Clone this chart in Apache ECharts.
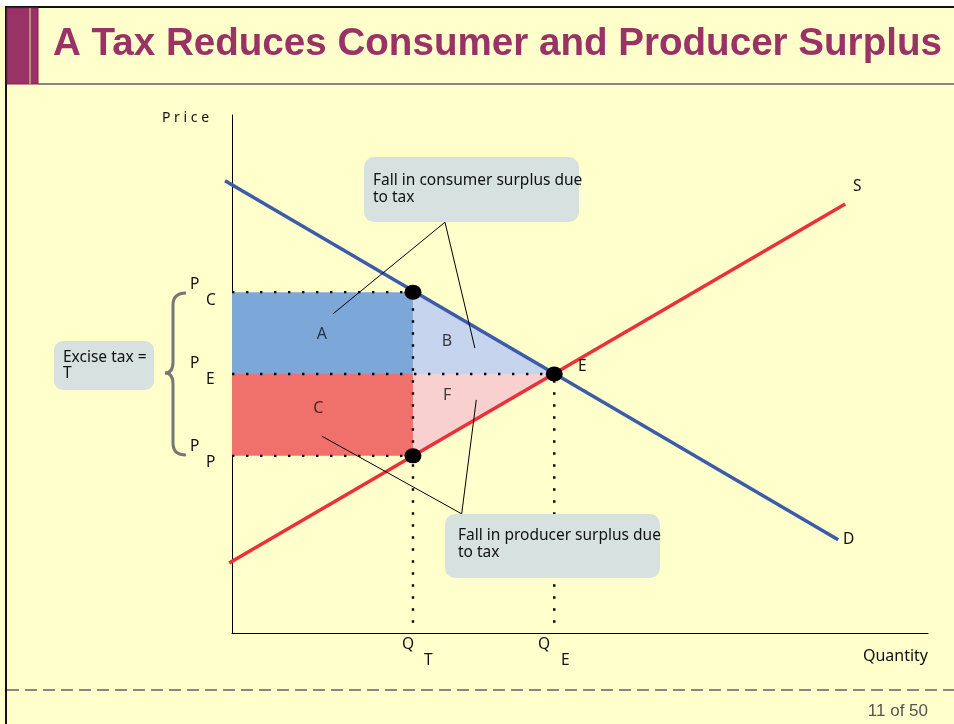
<!DOCTYPE html>
<html>
<head>
<meta charset="utf-8">
<script src="https://cdn.jsdelivr.net/npm/echarts@6/dist/echarts.min.js"></script>
<style>
html, body { margin: 0; padding: 0; background: #fff; }
#chart { width: 954px; height: 724px; background: #ffffcc; }
</style>
</head>
<body>
<div id="chart"></div>
<script>
// quantities and prices, axis units 0..100
const qT = 26, qE = 46.3;
const pC = 65.8, pE = 50, pP = 34.2;

// demand / supply end points
const demandLine = [[-1, 87.3], [87.1, 18.0]];
const supplyLine = [[-0.4, 13.5], [88.1, 82.8]];

// shaded regions A, B, C, F
const areaNames = ['A', 'B', 'C', 'F'];
const areaPolys = [
  [[0, pE], [qT, pE], [qT, pC], [0, pC]],
  [[qT, pE], [qE, pE], [qT, pC]],
  [[0, pP], [qT, pP], [qT, pE], [0, pE]],
  [[qT, pP], [qE, pE], [qT, pE]]
];
const areaLabelPos = [[12.9, 57.7], [30.9, 56.2], [12.4, 43.4], [30.9, 45.8]];
const areaColors = ['#7ba7d9', '#c6d4ee', '#f0706b', '#f9d0d0'];

// leader lines from the callouts
const leaderLines = [
  [[30.6, 79.3], [14.5, 61.6]],
  [[30.6, 79.3], [34.9, 55.0]],
  [[33.0, 23.0], [12.9, 38.0]],
  [[33.0, 23.0], [35.1, 45.0]]
];

// dotted guides
const hGuides = [[[0, pC], [qT, pC]], [[0, pE], [qE, pE]], [[0, pP], [qT, pP]]];
const vGuides = [[[qT, 2], [qT, pC]], [[qE, 2], [qE, pE]]];
const keyPoints = [[qT, pC], [qE, pE], [qT, pP]];

const chart = echarts.init(document.getElementById('chart'));
const txtFont = '15.5px "Noto Sans", sans-serif';

function txt(text, x, y, align, font) {
  return {
    type: 'text', z: 100,
    style: { text: text, x: x, y: y, font: font || txtFont, fill: '#111',
      textAlign: align || 'left', textVerticalAlign: 'middle' }
  };
}
function seg(x1, y1, x2, y2) {
  return { type: 'line', z: 60, shape: { x1: x1, y1: y1, x2: x2, y2: y2 },
    style: { stroke: '#777', lineWidth: 3 } };
}
function curve(x1, y1, cx, cy, x2, y2) {
  return { type: 'bezierCurve', z: 60,
    shape: { x1: x1, y1: y1, cpx1: cx, cpy1: cy, x2: x2, y2: y2 },
    style: { stroke: '#777', lineWidth: 3, fill: null } };
}

const series = [];
series.push({
  type: 'custom',
  z: 1,
  silent: true,
  data: areaPolys.map((p, i) => [i]),
  renderItem: (params, api) => {
    const i = params.dataIndex;
    return {
      type: 'polygon',
      shape: { points: areaPolys[i].map(pt => api.coord(pt)) },
      style: { fill: areaColors[i] }
    };
  }
});
series.push({
  type: 'scatter',
  z: 2,
  silent: true,
  symbolSize: 0,
  data: areaLabelPos.map((p, i) => ({ value: p, name: areaNames[i] })),
  label: { show: true, position: 'inside', formatter: '{b}', fontSize: 16,
    color: '#111', fontFamily: 'Noto Sans' }
});
hGuides.forEach(g => series.push({
  type: 'line', data: g, z: 3, silent: true, symbol: 'none',
  lineStyle: { color: '#000', width: 2.4, type: [2.4, 11.6] }
}));
vGuides.forEach(g => series.push({
  type: 'line', data: g, z: 3, silent: true, symbol: 'none',
  lineStyle: { color: '#000', width: 2.4, type: [2.4, 9.6] }
}));
// demand and supply, drawn unclipped so they start just left of the axis
const curveLines = [demandLine, supplyLine];
const curveColors = ['#3c5ba9', '#ec3038'];
series.push({
  type: 'custom',
  z: 4,
  silent: true,
  clip: false,
  data: curveLines.map((l, i) => [i]),
  renderItem: (params, api) => {
    const i = params.dataIndex;
    return {
      type: 'polyline',
      shape: { points: curveLines[i].map(pt => api.coord(pt)) },
      style: { stroke: curveColors[i], lineWidth: 3.5, fill: null }
    };
  }
});
leaderLines.forEach(l => series.push({
  type: 'line', data: l, z: 5, silent: true, symbol: 'none',
  lineStyle: { color: '#000', width: 1 }
}));
series.push({
  type: 'scatter', data: keyPoints, z: 6, silent: true,
  symbol: 'circle', symbolSize: [17, 15],
  itemStyle: { color: '#000', opacity: 1 }
});

const option = {
  animation: false,
  grid: { left: 232, right: 26, top: 115, bottom: 91 },
  xAxis: {
    type: 'value', min: 0, max: 100,
    axisLine: { show: true, lineStyle: { color: '#000', width: 1 } },
    axisTick: { show: false }, axisLabel: { show: false }, splitLine: { show: false }
  },
  yAxis: {
    type: 'value', min: 0, max: 100,
    axisLine: { show: true, lineStyle: { color: '#000', width: 1 } },
    axisTick: { show: false }, axisLabel: { show: false }, splitLine: { show: false }
  },
  series: series,
  graphic: [
    // slide frame and title bar
    { type: 'rect', z: 50, shape: { x: 0, y: 0, width: 954, height: 6 }, style: { fill: '#fff' } },
    { type: 'line', z: 51, shape: { x1: 6, y1: 7, x2: 954, y2: 7 }, style: { stroke: '#111', lineWidth: 2 } },
    { type: 'line', z: 51, shape: { x1: 6, y1: 6, x2: 6, y2: 724 }, style: { stroke: '#111', lineWidth: 2 } },
    { type: 'line', z: 51, shape: { x1: 38, y1: 84, x2: 954, y2: 84 }, style: { stroke: '#888', lineWidth: 2 } },
    { type: 'rect', z: 52, shape: { x: 7, y: 8, width: 31, height: 76 }, style: { fill: '#993366', stroke: '#8a1f4a', lineWidth: 1 } },
    { type: 'line', z: 53, shape: { x1: 30, y1: 8, x2: 30, y2: 84 }, style: { stroke: '#e8d7a8', lineWidth: 1 } },
    { type: 'text', z: 100, style: { text: 'A Tax Reduces Consumer and Producer Surplus', x: 53, y: 44,
        font: 'bold 38.6px "Liberation Sans", Arial, sans-serif', fill: '#993366',
        textAlign: 'left', textVerticalAlign: 'middle' } },
    // footer
    { type: 'line', z: 51, shape: { x1: 7, y1: 690, x2: 954, y2: 690 },
      style: { stroke: '#888', lineWidth: 2, lineDash: [12, 6] } },
    { type: 'text', z: 100, style: { text: '11 of 50', x: 928, y: 711,
      font: '17px "Liberation Sans", Arial, sans-serif', fill: '#555',
      textAlign: 'right', textVerticalAlign: 'middle' } },
    // axis titles and markers
    txt('P r i c e', 162, 118, 'left', '14px "Noto Sans", sans-serif'),
    txt('Quantity', 928, 656, 'right', '16px "Noto Sans", sans-serif'),
    txt('Q', 402, 645), txt('T', 424, 661),
    txt('Q', 538, 645), txt('E', 561, 661),
    txt('P', 190, 285), txt('C', 206, 301),
    txt('P', 190, 364), txt('E', 206, 380),
    txt('P', 190, 447), txt('P', 206, 463),
    txt('S', 853, 187), txt('D', 843, 540), txt('E', 578, 367),
    // brace
    curve(186, 293, 173, 293, 173, 305),
    seg(173, 305, 173, 362),
    curve(173, 362, 173, 373, 165, 373),
    curve(165, 373, 173, 373, 173, 384),
    seg(173, 384, 173, 443),
    curve(173, 443, 173, 455, 186, 455),
    // callout boxes
    { type: 'rect', z: 60, shape: { x: 54, y: 341, width: 100, height: 49, r: 9 }, style: { fill: '#d6e1e0' } },
    txt('Excise tax =', 63, 358), txt('T', 63, 374),
    { type: 'rect', z: 60, shape: { x: 364, y: 157, width: 215, height: 65, r: 10 }, style: { fill: '#d6e1e0' } },
    txt('Fall in consumer surplus due', 373, 181), txt('to tax', 373, 198),
    { type: 'rect', z: 60, shape: { x: 445, y: 514, width: 215, height: 64, r: 10 }, style: { fill: '#d6e1e0' } },
    txt('Fall in producer surplus due', 458, 536), txt('to tax', 458, 553)
  ]
};
chart.setOption(option);
</script>
</body>
</html>
